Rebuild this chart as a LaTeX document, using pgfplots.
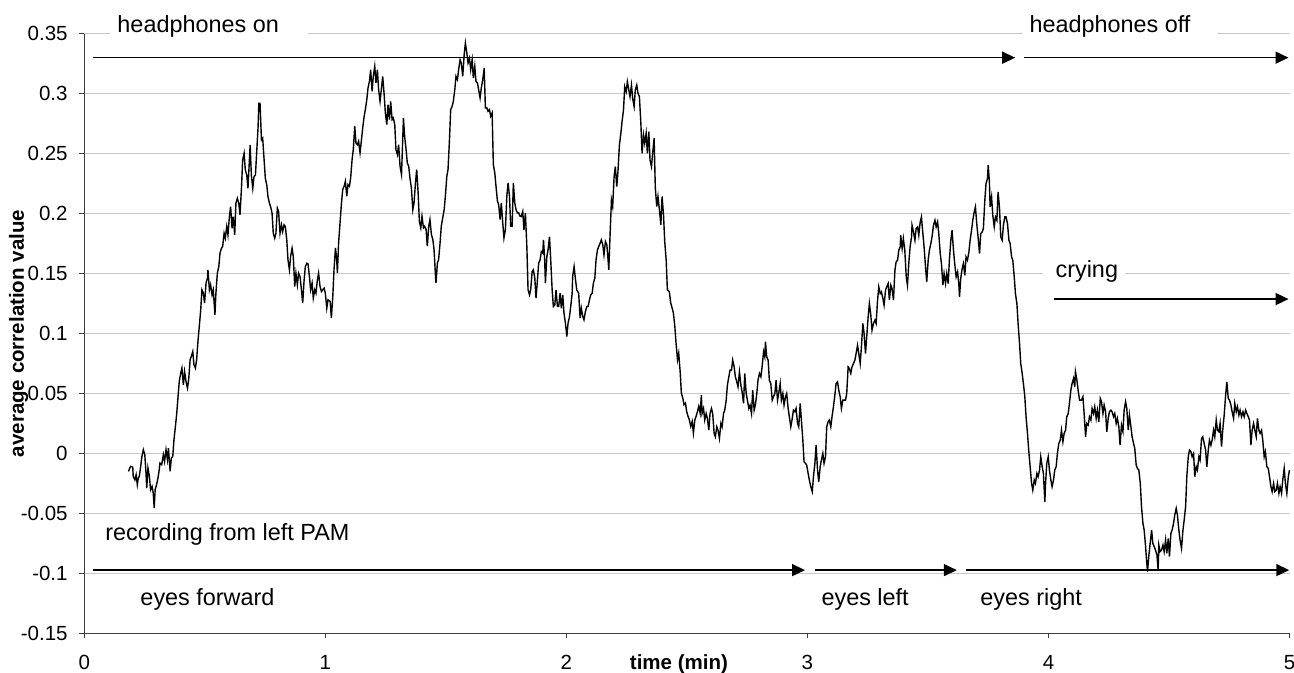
\documentclass[border=0pt]{standalone}
\usepackage{fontspec}
\setmainfont{Liberation Sans}
\usepackage{pgfplots}
\usepackage{pgfplotstable}
\pgfplotsset{compat=1.18}
\usetikzlibrary{arrows.meta}
\definecolor{gridgray}{RGB}{200,200,200}
\definecolor{axgray}{RGB}{60,60,60}
\newcommand{\annfont}{\fontsize{11.7}{14}\selectfont}
\pgfplotstableread{
x y
0.183 -0.0150
0.192 -0.0108
0.201 -0.0114
0.203 -0.0192
0.210 -0.0220
0.215 -0.0178
0.220 -0.0261
0.224 -0.0206
0.228 -0.0192
0.234 -0.0108
0.239 -0.0025
0.245 0.0031
0.251 -0.0011
0.256 -0.0164
0.259 -0.0289
0.264 -0.0122
0.270 -0.0192
0.275 -0.0303
0.281 -0.0275
0.286 -0.0330
0.290 -0.0455
0.294 -0.0300
0.298 -0.0275
0.303 -0.0233
0.309 -0.0164
0.314 -0.0081
0.321 -0.0094
0.328 -0.0011
0.333 -0.0067
0.339 0.0031
0.345 -0.0053
0.349 0.0044
0.356 -0.0150
0.361 -0.0039
0.367 -0.0025
0.372 0.0114
0.378 0.0225
0.383 0.0322
0.389 0.0475
0.394 0.0600
0.400 0.0670
0.405 0.0711
0.411 0.0572
0.416 0.0683
0.422 0.0600
0.428 0.0545
0.433 0.0614
0.439 0.0781
0.444 0.0809
0.450 0.0850
0.455 0.0739
0.461 0.0711
0.466 0.0781
0.472 0.0947
0.477 0.1058
0.483 0.1197
0.488 0.1364
0.494 0.1336
0.499 0.1253
0.505 0.1420
0.511 0.1461
0.513 0.1531
0.519 0.1364
0.524 0.1406
0.530 0.1322
0.535 0.1364
0.542 0.1156
0.546 0.1336
0.552 0.1503
0.558 0.1558
0.563 0.1670
0.569 0.1711
0.574 0.1725
0.580 0.1836
0.585 0.1795
0.591 0.1892
0.596 0.1822
0.602 0.1975
0.607 0.2058
0.613 0.1878
0.618 0.1975
0.624 0.1822
0.629 0.2086
0.635 0.2128
0.641 0.2086
0.646 0.1989
0.652 0.2211
0.657 0.2447
0.663 0.2503
0.668 0.2364
0.674 0.2322
0.679 0.2211
0.685 0.2447
0.688 0.2572
0.693 0.2322
0.699 0.2211
0.704 0.2308
0.710 0.2322
0.715 0.2503
0.721 0.2725
0.724 0.2919
0.729 0.2919
0.735 0.2614
0.740 0.2628
0.746 0.2447
0.751 0.2294
0.757 0.2239
0.762 0.2142
0.768 0.2086
0.773 0.2058
0.779 0.2003
0.784 0.1836
0.790 0.1795
0.795 0.1836
0.801 0.2045
0.806 0.2017
0.812 0.1836
0.818 0.1906
0.823 0.1850
0.829 0.1906
0.834 0.1892
0.840 0.1781
0.845 0.1614
0.851 0.1531
0.856 0.1642
0.862 0.1711
0.867 0.1642
0.873 0.1392
0.878 0.1503
0.884 0.1406
0.889 0.1503
0.895 0.1475
0.901 0.1364
0.906 0.1253
0.912 0.1447
0.917 0.1558
0.923 0.1586
0.928 0.1581
0.934 0.1475
0.939 0.1364
0.945 0.1420
0.950 0.1295
0.956 0.1364
0.961 0.1336
0.967 0.1447
0.972 0.1503
0.978 0.1392
0.984 0.1350
0.989 0.1364
0.995 0.1378
1.000 0.1336
1.006 0.1211
1.011 0.1281
1.020 0.1267
1.025 0.1130
1.031 0.1311
1.036 0.1533
1.042 0.1714
1.047 0.1617
1.050 0.1505
1.055 0.1756
1.061 0.1922
1.067 0.2089
1.072 0.2200
1.078 0.2228
1.083 0.2269
1.089 0.2145
1.094 0.2242
1.100 0.2228
1.105 0.2297
1.111 0.2450
1.116 0.2533
1.122 0.2728
1.127 0.2589
1.133 0.2575
1.138 0.2603
1.144 0.2506
1.150 0.2617
1.155 0.2714
1.161 0.2811
1.166 0.2867
1.172 0.2950
1.177 0.3047
1.183 0.3103
1.188 0.3200
1.194 0.3019
1.199 0.3144
1.205 0.3228
1.210 0.3089
1.216 0.3200
1.221 0.3033
1.227 0.2936
1.233 0.3047
1.238 0.3144
1.244 0.2992
1.249 0.2839
1.255 0.2742
1.260 0.2908
1.266 0.2783
1.271 0.2936
1.277 0.2783
1.282 0.2797
1.288 0.2742
1.293 0.2533
1.299 0.2492
1.304 0.2575
1.310 0.2394
1.316 0.2325
1.321 0.2617
1.324 0.2797
1.329 0.2644
1.335 0.2533
1.340 0.2422
1.346 0.2394
1.351 0.2297
1.357 0.2214
1.363 0.2033
1.368 0.2089
1.374 0.2256
1.379 0.2367
1.385 0.2172
1.390 0.1936
1.396 0.1881
1.401 0.1978
1.407 0.1881
1.412 0.1894
1.418 0.1867
1.423 0.1728
1.429 0.1894
1.434 0.1950
1.440 0.1825
1.446 0.1783
1.451 0.1700
1.457 0.1478
1.459 0.1422
1.465 0.1589
1.470 0.1617
1.476 0.1756
1.481 0.1894
1.487 0.1964
1.493 0.2033
1.498 0.2145
1.504 0.2311
1.509 0.2367
1.515 0.2617
1.520 0.2867
1.526 0.2894
1.531 0.2936
1.537 0.3033
1.542 0.3144
1.548 0.3117
1.553 0.3200
1.559 0.3283
1.564 0.3256
1.570 0.3144
1.576 0.3325
1.581 0.3422
1.587 0.3339
1.592 0.3256
1.598 0.3297
1.603 0.3200
1.609 0.3283
1.614 0.3131
1.620 0.3228
1.625 0.3103
1.631 0.3089
1.636 0.3033
1.642 0.2964
1.647 0.3047
1.653 0.3117
1.659 0.3214
1.664 0.2881
1.670 0.2881
1.675 0.2853
1.681 0.2867
1.686 0.2811
1.692 0.2839
1.697 0.2408
1.703 0.2339
1.708 0.2228
1.714 0.2103
1.719 0.2075
1.725 0.1950
1.730 0.2089
1.736 0.1922
1.741 0.1797
1.747 0.1867
1.753 0.2145
1.758 0.2256
1.764 0.2145
1.769 0.1894
1.775 0.1894
1.780 0.2256
1.786 0.2089
1.791 0.2033
1.797 0.2006
1.802 0.2006
1.808 0.1978
1.813 0.1975
1.819 0.2017
1.824 0.1864
1.830 0.2003
1.836 0.1725
1.841 0.1364
1.847 0.1322
1.852 0.1364
1.858 0.1517
1.863 0.1531
1.869 0.1461
1.874 0.1295
1.880 0.1447
1.885 0.1586
1.891 0.1614
1.896 0.1683
1.902 0.1670
1.905 0.1781
1.910 0.1614
1.913 0.1420
1.919 0.1642
1.924 0.1697
1.930 0.1808
1.935 0.1614
1.941 0.1364
1.946 0.1225
1.952 0.1239
1.957 0.1364
1.963 0.1225
1.968 0.1225
1.974 0.1336
1.979 0.1211
1.985 0.1322
1.990 0.1170
1.996 0.1086
2.002 0.0975
2.007 0.1086
2.013 0.1142
2.018 0.1225
2.024 0.1336
2.026 0.1475
2.032 0.1558
2.038 0.1447
2.043 0.1364
2.051 0.1336
2.057 0.1128
2.062 0.1211
2.068 0.1142
2.073 0.1114
2.079 0.1184
2.085 0.1225
2.090 0.1225
2.096 0.1281
2.101 0.1322
2.107 0.1336
2.112 0.1420
2.118 0.1461
2.123 0.1614
2.129 0.1697
2.134 0.1725
2.140 0.1753
2.145 0.1781
2.151 0.1739
2.156 0.1656
2.162 0.1767
2.168 0.1739
2.173 0.1614
2.176 0.1531
2.181 0.1808
2.187 0.2114
2.192 0.2058
2.198 0.2308
2.203 0.2392
2.209 0.2225
2.214 0.2350
2.220 0.2572
2.226 0.2670
2.231 0.2767
2.237 0.2864
2.242 0.3058
2.248 0.3017
2.253 0.3100
2.259 0.3031
2.264 0.2975
2.270 0.3072
2.275 0.2961
2.281 0.2892
2.286 0.3031
2.292 0.3072
2.297 0.3003
2.303 0.2975
2.309 0.2753
2.314 0.2503
2.320 0.2656
2.325 0.2586
2.331 0.2670
2.336 0.2503
2.342 0.2684
2.347 0.2447
2.353 0.2392
2.358 0.2503
2.364 0.2628
2.369 0.2211
2.375 0.2058
2.380 0.2142
2.386 0.2031
2.392 0.1906
2.397 0.2142
2.403 0.1989
2.408 0.1767
2.414 0.1614
2.419 0.1364
2.427 0.1350
2.433 0.1253
2.439 0.1211
2.444 0.1170
2.450 0.1058
2.455 0.0919
2.461 0.0781
2.466 0.0836
2.472 0.0683
2.477 0.0503
2.483 0.0461
2.488 0.0406
2.494 0.0420
2.499 0.0350
2.505 0.0308
2.510 0.0281
2.516 0.0225
2.522 0.0267
2.527 0.0170
2.533 0.0281
2.538 0.0308
2.544 0.0350
2.549 0.0392
2.555 0.0336
2.560 0.0486
2.563 0.0333
2.569 0.0375
2.574 0.0278
2.580 0.0333
2.585 0.0292
2.591 0.0194
2.596 0.0333
2.602 0.0375
2.607 0.0333
2.613 0.0167
2.618 0.0139
2.624 0.0222
2.629 0.0194
2.635 0.0125
2.641 0.0250
2.646 0.0222
2.652 0.0333
2.657 0.0361
2.663 0.0444
2.668 0.0569
2.674 0.0639
2.679 0.0694
2.685 0.0694
2.690 0.0778
2.696 0.0722
2.701 0.0639
2.707 0.0597
2.712 0.0556
2.718 0.0681
2.724 0.0569
2.729 0.0514
2.735 0.0417
2.740 0.0667
2.746 0.0500
2.751 0.0444
2.757 0.0375
2.762 0.0403
2.768 0.0333
2.773 0.0528
2.779 0.0361
2.784 0.0403
2.790 0.0500
2.795 0.0611
2.801 0.0667
2.807 0.0639
2.812 0.0722
2.818 0.0847
2.823 0.0806
2.826 0.0931
2.831 0.0806
2.837 0.0778
2.842 0.0611
2.848 0.0583
2.854 0.0444
2.859 0.0472
2.865 0.0500
2.870 0.0611
2.876 0.0444
2.881 0.0500
2.887 0.0583
2.892 0.0444
2.898 0.0500
2.903 0.0403
2.909 0.0472
2.914 0.0500
2.920 0.0375
2.925 0.0306
2.931 0.0222
2.936 0.0278
2.942 0.0361
2.948 0.0347
2.953 0.0375
2.959 0.0250
2.964 0.0222
2.970 0.0417
2.975 0.0278
2.981 0.0111
2.986 -0.0069
2.992 -0.0083
2.997 -0.0097
3.003 -0.0167
3.008 -0.0222
3.014 -0.0278
3.020 -0.0319
3.025 -0.0194
3.031 -0.0083
3.036 0.0069
3.042 -0.0139
3.047 -0.0236
3.053 -0.0111
3.058 -0.0056
3.064 0.0000
3.069 -0.0083
3.075 -0.0028
3.080 0.0222
3.086 0.0264
3.091 0.0278
3.097 0.0222
3.102 0.0306
3.108 0.0389
3.113 0.0472
3.119 0.0583
3.125 0.0597
3.130 0.0528
3.136 0.0472
3.141 0.0375
3.147 0.0444
3.152 0.0444
3.158 0.0444
3.163 0.0500
3.169 0.0722
3.174 0.0708
3.180 0.0667
3.185 0.0722
3.191 0.0750
3.197 0.0778
3.202 0.0833
3.208 0.0903
3.213 0.0833
3.219 0.0750
3.224 0.0889
3.230 0.1083
3.235 0.1000
3.241 0.0833
3.246 0.0972
3.252 0.1139
3.257 0.1250
3.263 0.1153
3.268 0.1028
3.274 0.1083
3.280 0.1111
3.285 0.1083
3.291 0.1278
3.296 0.1389
3.302 0.1333
3.307 0.1347
3.313 0.1292
3.318 0.1236
3.324 0.1361
3.329 0.1389
3.335 0.1417
3.340 0.1278
3.346 0.1403
3.351 0.1375
3.357 0.1278
3.363 0.1528
3.368 0.1597
3.374 0.1611
3.379 0.1694
3.385 0.1722
3.387 0.1819
3.393 0.1708
3.398 0.1792
3.404 0.1694
3.410 0.1472
3.415 0.1403
3.421 0.1597
3.426 0.1722
3.432 0.1806
3.434 0.1903
3.440 0.1847
3.446 0.1778
3.451 0.1875
3.457 0.1889
3.462 0.1819
3.468 0.1931
3.473 0.1972
3.479 0.1833
3.484 0.1722
3.490 0.1556
3.495 0.1431
3.501 0.1611
3.506 0.1694
3.512 0.1750
3.517 0.1806
3.523 0.1903
3.529 0.1944
3.534 0.1889
3.540 0.1931
3.545 0.1833
3.551 0.1667
3.556 0.1583
3.562 0.1403
3.567 0.1500
3.573 0.1417
3.578 0.1500
3.584 0.1417
3.589 0.1611
3.595 0.1778
3.600 0.1861
3.606 0.1694
3.611 0.1583
3.617 0.1472
3.623 0.1514
3.628 0.1417
3.631 0.1306
3.636 0.1458
3.642 0.1542
3.647 0.1583
3.653 0.1486
3.658 0.1639
3.664 0.1611
3.670 0.1681
3.675 0.1778
3.681 0.1861
3.686 0.1944
3.692 0.2014
3.697 0.2056
3.703 0.1903
3.708 0.1806
3.714 0.1667
3.719 0.1833
3.725 0.1847
3.730 0.1875
3.736 0.2111
3.741 0.2250
3.747 0.2292
3.750 0.2403
3.755 0.2264
3.758 0.2056
3.764 0.2139
3.769 0.1986
3.775 0.1889
3.780 0.1972
3.786 0.1944
3.791 0.2181
3.797 0.2042
3.802 0.1806
3.808 0.1778
3.813 0.1903
3.819 0.1972
3.824 0.1972
3.830 0.1917
3.836 0.1778
3.841 0.1750
3.847 0.1639
3.852 0.1611
3.858 0.1472
3.863 0.1333
3.869 0.1250
3.874 0.1083
3.880 0.0917
3.885 0.0750
3.891 0.0667
3.896 0.0583
3.902 0.0472
3.907 0.0306
3.913 0.0167
3.918 0.0028
3.924 -0.0111
3.930 -0.0250
3.935 -0.0306
3.941 -0.0222
3.946 -0.0250
3.952 -0.0167
3.957 -0.0194
3.963 -0.0139
3.968 -0.0028
3.974 -0.0111
3.979 -0.0167
3.985 -0.0403
3.988 -0.0250
3.993 -0.0083
3.999 -0.0028
4.004 -0.0139
4.010 -0.0222
4.015 -0.0278
4.021 -0.0222
4.026 -0.0139
4.032 -0.0111
4.037 0.0000
4.043 0.0083
4.049 0.0111
4.054 0.0194
4.060 0.0097
4.065 0.0167
4.071 0.0194
4.076 0.0306
4.082 0.0333
4.087 0.0417
4.093 0.0528
4.098 0.0583
4.104 0.0625
4.109 0.0556
4.112 0.0681
4.118 0.0611
4.123 0.0528
4.129 0.0444
4.137 0.0444
4.143 0.0472
4.148 0.0333
4.154 0.0139
4.159 0.0250
4.165 0.0236
4.170 0.0306
4.176 0.0278
4.181 0.0375
4.187 0.0333
4.192 0.0389
4.198 0.0292
4.203 0.0361
4.209 0.0264
4.215 0.0458
4.220 0.0431
4.226 0.0333
4.231 0.0403
4.237 0.0347
4.242 0.0181
4.248 0.0292
4.253 0.0347
4.259 0.0361
4.264 0.0347
4.270 0.0306
4.275 0.0333
4.281 0.0250
4.286 0.0292
4.292 0.0222
4.297 0.0069
4.303 0.0236
4.309 0.0181
4.314 0.0361
4.320 0.0431
4.325 0.0375
4.331 0.0194
4.336 0.0319
4.342 0.0222
4.347 0.0139
4.353 0.0083
4.358 0.0042
4.364 -0.0097
4.369 -0.0125
4.375 -0.0139
4.381 -0.0250
4.386 -0.0444
4.392 -0.0583
4.397 -0.0639
4.403 -0.0778
4.408 -0.0917
4.411 -0.0986
4.416 -0.0861
4.422 -0.0750
4.428 -0.0639
4.433 -0.0750
4.439 -0.0778
4.444 -0.0806
4.450 -0.0847
4.455 -0.0972
4.458 -0.0764
4.463 -0.0819
4.469 -0.0806
4.475 -0.0764
4.480 -0.0819
4.486 -0.0722
4.491 -0.0833
4.497 -0.0708
4.502 -0.0861
4.508 -0.0667
4.513 -0.0639
4.519 -0.0583
4.524 -0.0514
4.530 -0.0458
4.535 -0.0514
4.541 -0.0639
4.546 -0.0722
4.552 -0.0792
4.558 -0.0639
4.563 -0.0556
4.569 -0.0444
4.574 -0.0194
4.580 -0.0028
4.585 0.0028
4.591 0.0014
4.596 -0.0028
4.602 0.0000
4.607 -0.0194
4.613 -0.0111
4.618 -0.0139
4.624 -0.0028
4.629 -0.0056
4.635 0.0125
4.640 0.0139
4.646 0.0083
4.652 0.0028
4.657 -0.0111
4.663 0.0028
4.668 0.0111
4.674 0.0069
4.679 0.0111
4.685 0.0194
4.690 0.0139
4.696 0.0278
4.701 0.0194
4.707 0.0181
4.712 0.0250
4.718 0.0056
4.723 0.0194
4.729 0.0319
4.735 0.0486
4.740 0.0597
4.746 0.0458
4.751 0.0444
4.757 0.0403
4.762 0.0347
4.768 0.0292
4.773 0.0417
4.779 0.0347
4.784 0.0389
4.790 0.0319
4.795 0.0361
4.801 0.0306
4.807 0.0347
4.812 0.0306
4.818 0.0361
4.823 0.0333
4.829 0.0306
4.834 0.0278
4.840 0.0069
4.845 0.0194
4.851 0.0250
4.856 0.0194
4.862 0.0139
4.867 0.0292
4.873 0.0194
4.878 0.0167
4.884 0.0194
4.889 0.0111
4.895 -0.0028
4.900 0.0014
4.906 -0.0111
4.912 -0.0125
4.917 -0.0194
4.923 -0.0278
4.928 -0.0319
4.934 -0.0250
4.939 -0.0319
4.945 -0.0306
4.950 -0.0250
4.956 -0.0333
4.961 -0.0278
4.967 -0.0333
4.972 -0.0222
4.978 -0.0125
4.983 -0.0250
4.989 -0.0333
4.995 -0.0194
5.000 -0.0139
}\corrdata
\begin{document}
\begin{tikzpicture}
\begin{axis}[
  scale only axis, width=602.6pt, height=299.8pt,
  xmin=0, xmax=5, ymin=-0.15, ymax=0.35,
  axis x line*=bottom, axis y line*=left,
  axis line style={axgray, line width=0.65pt, -},
  xtick={0,1,2,3,4,5}, xticklabels={0,1,2,3,4,5},
  ytick={-0.15,-0.1,-0.05,0,0.05,0.1,0.15,0.2,0.25,0.3,0.35},
  yticklabels={-0.15,-0.1,-0.05,0,0.05,0.1,0.15,0.2,0.25,0.3,0.35},
  tick align=outside, major tick length=2.5pt,
  tick style={axgray, line width=0.65pt},
  ymajorgrids, grid style={gridgray, line width=0.7pt},
  ticklabel style={font=\fontsize{10.25}{12}\selectfont},
  xticklabel style={anchor=base, yshift=-15.6pt},
  yticklabel style={anchor=east, inner sep=0pt, xshift=-5.65pt},
  xlabel={time (min)},
  xlabel style={font=\fontsize{10.25}{12}\selectfont\bfseries, at={(axis description cs:0.4934,-0.0604)}, anchor=base},
  ylabel={average correlation value},
  ylabel style={font=\fontsize{10.25}{12}\selectfont\bfseries, at={(axis description cs:-0.0546,0.5)}, anchor=center},
  clip=false,
]
\addplot[black, line width=0.7pt] table[x=x, y=y] {\corrdata};
% white gaps in grid lines behind text boxes
\fill[white] (axis cs:0.107,0.347) rectangle (axis cs:0.928,0.353);
\fill[white] (axis cs:3.895,0.347) rectangle (axis cs:4.700,0.353);
\fill[white] (axis cs:3.978,0.147) rectangle (axis cs:4.318,0.153);
% annotations
\node[anchor=base west, inner sep=0pt, font=\annfont] at (axis cs:0.136,0.3514) {headphones on};
\node[anchor=base west, inner sep=0pt, font=\annfont] at (axis cs:3.920,0.3514) {headphones off};
\node[anchor=base west, inner sep=0pt, font=\annfont] at (axis cs:4.028,0.1465) {crying};
\node[anchor=base west, inner sep=0pt, font=\annfont] at (axis cs:0.086,-0.0723) {recording from left PAM};
\node[anchor=base west, inner sep=0pt, font=\annfont] at (axis cs:0.2315,-0.1265) {eyes forward};
\node[anchor=base west, inner sep=0pt, font=\annfont] at (axis cs:3.057,-0.1265) {eyes left};
\node[anchor=base west, inner sep=0pt, font=\annfont] at (axis cs:3.716,-0.1265) {eyes right};
\draw[black, line width=0.75pt, -{Triangle[length=6.5pt,width=6pt]}] (axis cs:0.035,0.33) -- (axis cs:3.862,0.33);
\draw[black, line width=0.75pt, -{Triangle[length=6.5pt,width=6pt]}] (axis cs:3.899,0.33) -- (axis cs:4.996,0.33);
\draw[black, line width=0.75pt, -{Triangle[length=6.5pt,width=6pt]}] (axis cs:4.024,0.1287) -- (axis cs:4.996,0.1287);
\draw[black, line width=0.75pt, -{Triangle[length=6.5pt,width=6pt]}] (axis cs:0.035,-0.0973) -- (axis cs:2.990,-0.0973);
\draw[black, line width=0.75pt, -{Triangle[length=6.5pt,width=6pt]}] (axis cs:3.032,-0.0973) -- (axis cs:3.620,-0.0973);
\draw[black, line width=0.75pt, -{Triangle[length=6.5pt,width=6pt]}] (axis cs:3.657,-0.0973) -- (axis cs:4.999,-0.0973);
\end{axis}
\pgfresetboundingbox
\path[use as bounding box] (-42.15pt,-19.85pt) rectangle (604.85pt,316.65pt);
\end{tikzpicture}
\end{document}
